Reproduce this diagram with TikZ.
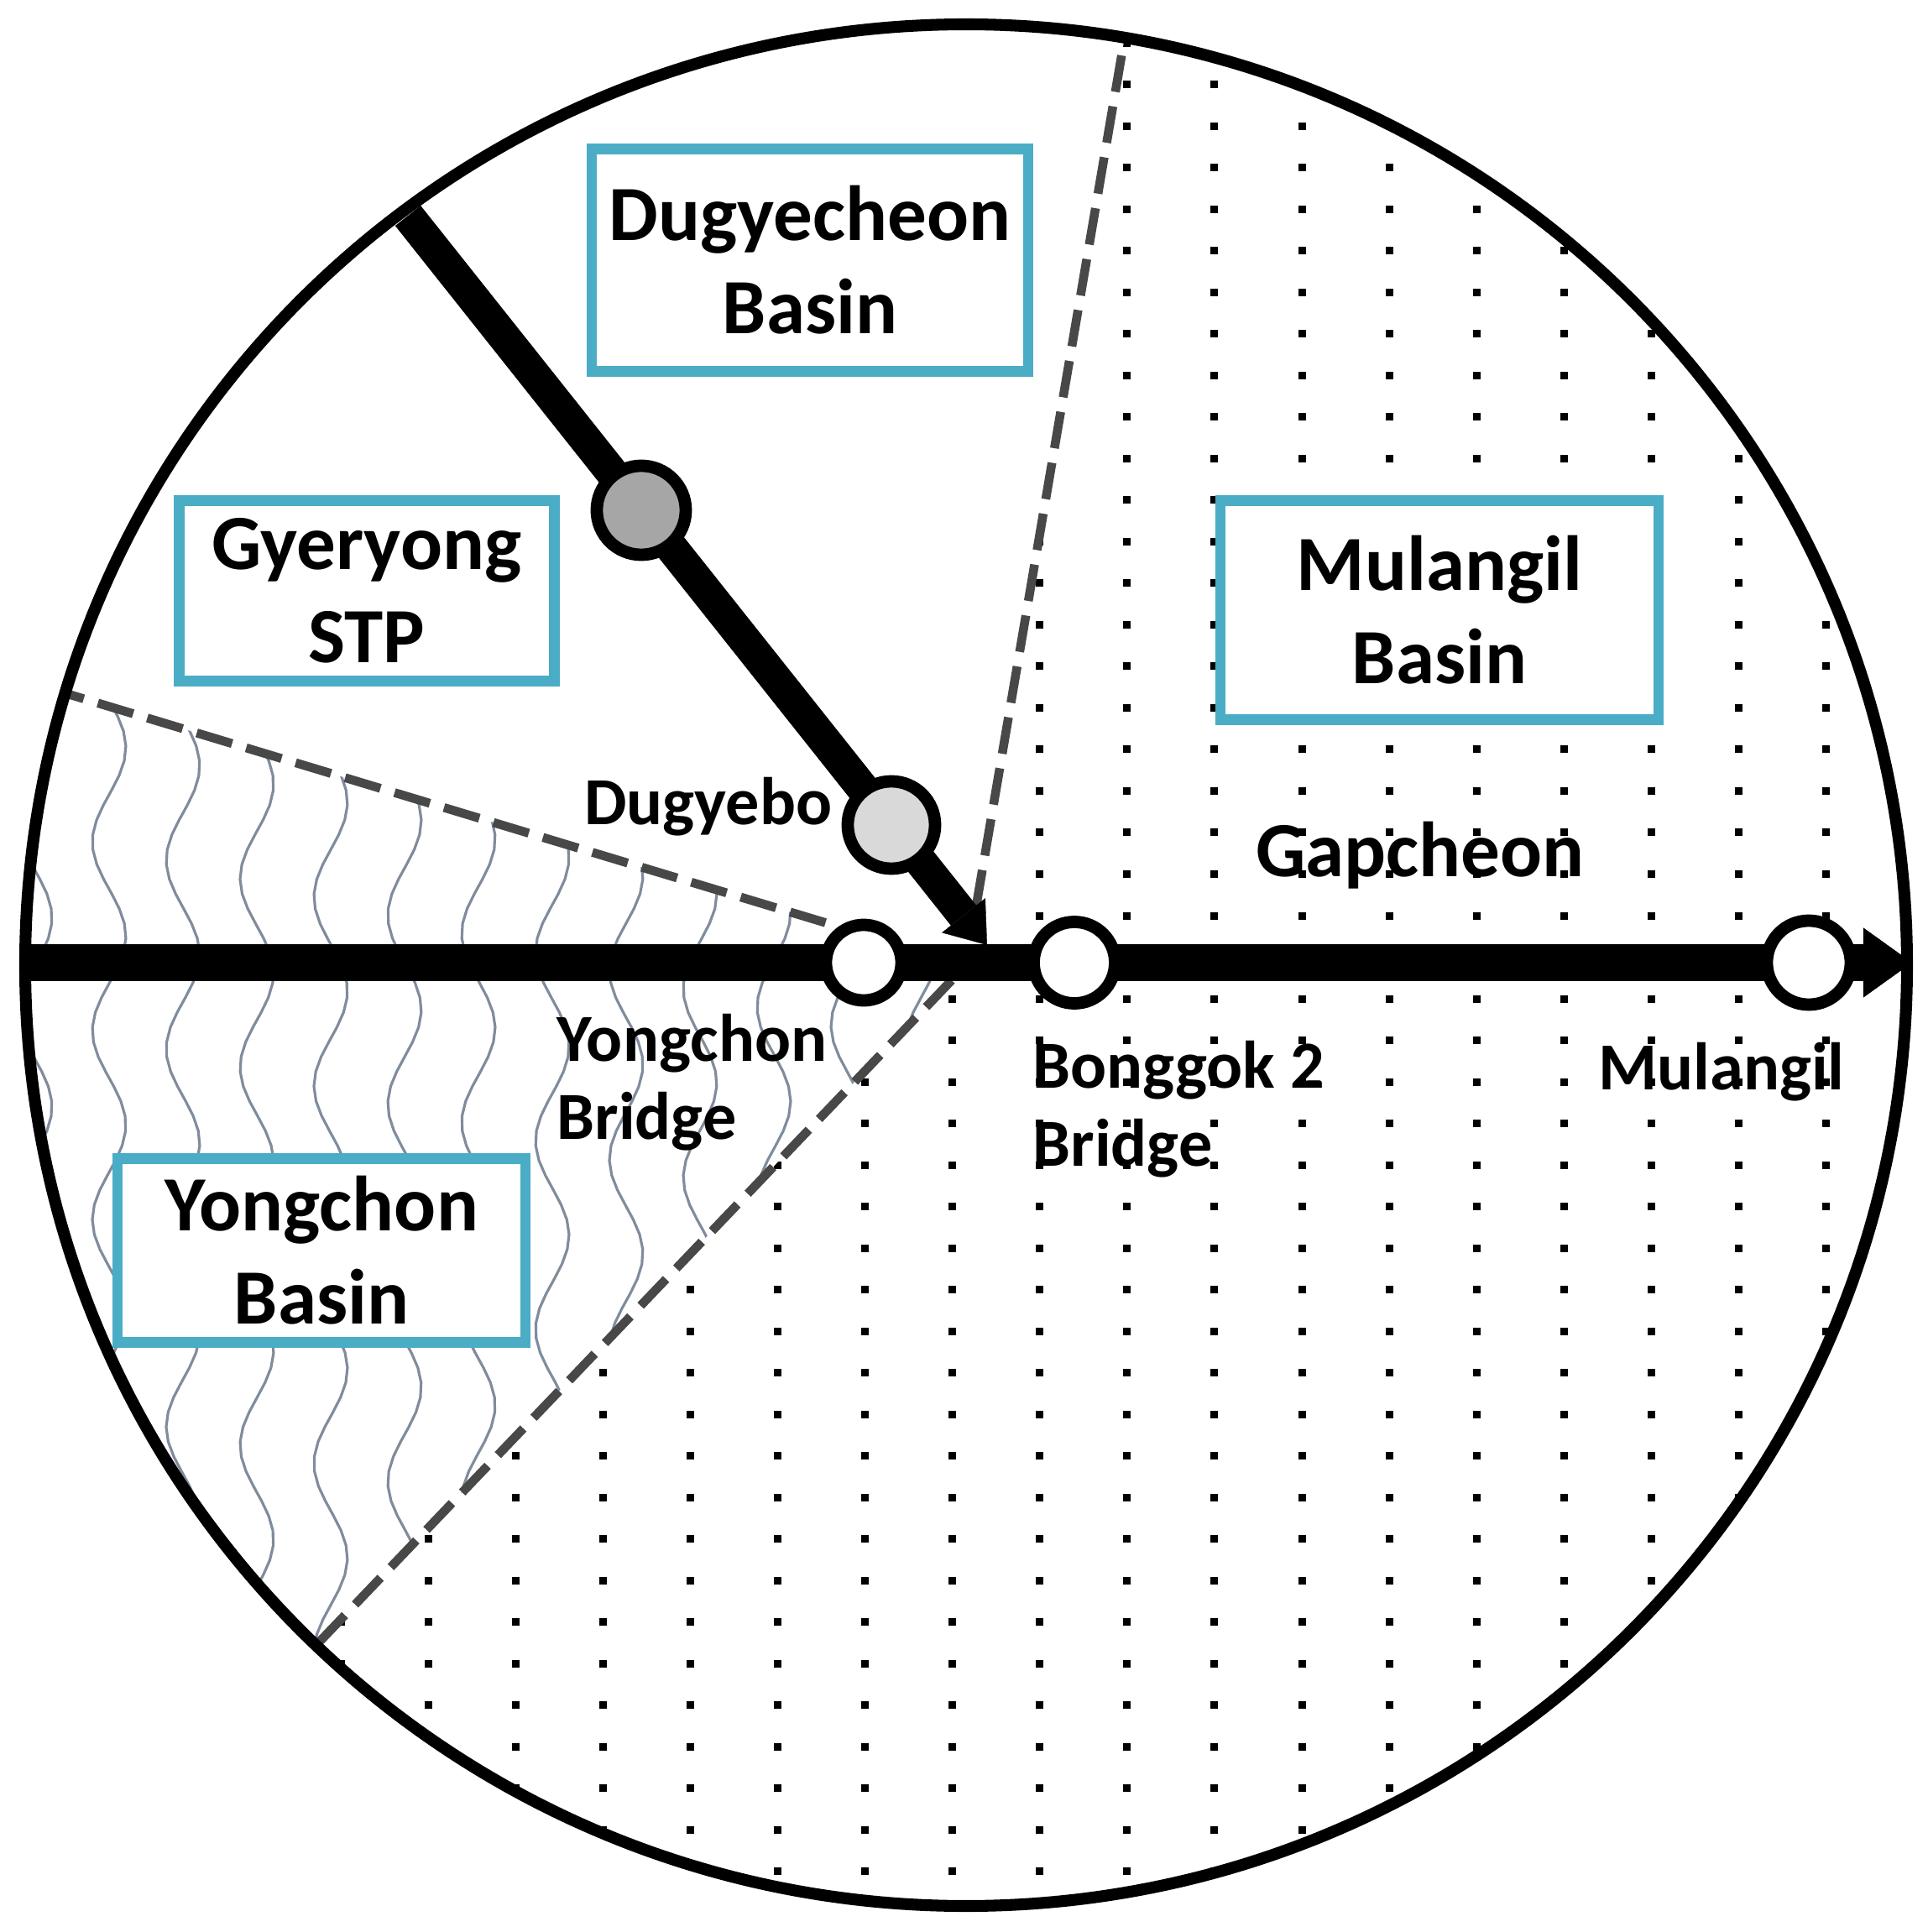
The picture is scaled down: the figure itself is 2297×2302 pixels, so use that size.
\documentclass[tikz,border=0pt]{standalone}
\usepackage{fontspec}
\setmainfont{Carlito}
\usetikzlibrary{arrows.meta}
\definecolor{boxblue}{HTML}{4BACC6}
\definecolor{wavegray}{RGB}{128,140,156}
\definecolor{dashgray}{HTML}{484848}
\tikzset{
  basin/.style={draw=boxblue, line width=3.6pt, fill=white, align=center, inner sep=0pt,
    font=\bfseries\fontsize{26.5}{31.5}\selectfont},
  site/.style={align=left, inner sep=0pt, font=\bfseries\fontsize{22.8}{26.5}\selectfont},
  gauge/.style={circle, draw, line width=4.2pt, inner sep=0pt, fill=white},
  border/.style={dashgray, line width=3pt, dash pattern=on 12.5pt off 5pt},
  wave/.style={wavegray, line width=0.9pt},
  river/.style={line width=12.5pt, -{Triangle[length=0.58cm, width=0.83cm, line width=0.1pt]}},
  trib/.style={line width=11pt, -{Triangle[length=0.45cm, width=0.66cm, line width=0.1pt]}}
}
\begin{document}
\begin{tikzpicture}[x=0.01cm, y=0.01cm]
\useasboundingbox (-1151,-1152) rectangle (1146,1150);
\coordinate (c) at (0,0);
% dotted sector (Gapcheon side)
\begin{scope}
\clip (c) -- (226.3:1121) arc[start angle=226.3, end angle=440.3, radius=1121] -- cycle;
\foreach \i in {-11,...,10} \foreach \j in {-23,...,24}
  \fill ({83.5+104*\i},{-44.5+49.5*\j}) rectangle ++(9,9);
\end{scope}
% wavy sector (Yongchon side)
\begin{scope}
\clip (c) -- (163.2:1121) arc[start angle=163.2, end angle=226.3, radius=1121] -- cycle;
\foreach \k in {0,...,12}
  \draw[wave] plot[domain=-1150:420, samples=90] ({-1109+88*\k+20*sin(1.6*\x+35*\k)}, \x);
\end{scope}
% basin borders
\coordinate (b1) at (80.3:1121);
\coordinate (b2) at (163.2:1121);
\coordinate (b3) at (226.3:1121);
\draw[border] (80.3:71) -- (b1);
\draw[border] (163.2:175) -- (b2);
\draw[border] (226.3:25) -- (b3);
\draw[line width=4pt] (c) circle[radius=1121];
% rivers
\coordinate (west) at (-1121,3);
\coordinate (east) at (1127,3);
\coordinate (dsrc) at (-665,893);
\coordinate (junc) at (25,24);
\draw[river] (west) -- (east);
\draw[trib] (dsrc) -- (junc);
\node[gauge, fill=black!35, minimum size=1.06cm] (stp) at (-387,542) {};
\node[gauge, fill=black!15, minimum size=1.04cm] (dgb) at (-89,167) {};
\node[gauge, minimum size=0.9cm] (ycb) at (-122,3) {};
\node[gauge, minimum size=0.97cm] (bgb) at (129,3) {};
\node[gauge, minimum size=1.0cm] (mlg) at (1004,3) {};
% basins
\node[basin, minimum width=5.2cm, minimum height=2.65cm] (dgc) at (-186,840) {Dugyecheon\\Basin};
\node[basin, minimum width=4.47cm, minimum height=2.15cm] (gys) at (-714,446) {Gyeryong\\STP};
\node[basin, minimum width=5.22cm, minimum height=2.61cm] (mlb) at (564,423) {Mulangil\\Basin};
\node[basin, minimum width=4.86cm, minimum height=2.19cm] (ycn) at (-768,-340) {Yongchon\\Basin};
% labels
\node[site, anchor=east] (dgbl) at (-159,189) {Dugyebo};
\node[site, anchor=west] (ycbl) at (-488,-140) {Yongchon\\Bridge};
\node[site, anchor=west] (bgbl) at (79,-172) {Bonggok 2\\Bridge};
\node[site, anchor=west] (mlgl) at (753,-127) {Mulangil};
\node[inner sep=0pt, font=\bfseries\fontsize{26.5}{31.5}\selectfont] (gap) at (541,131) {Gapcheon};
\end{tikzpicture}
\end{document}
